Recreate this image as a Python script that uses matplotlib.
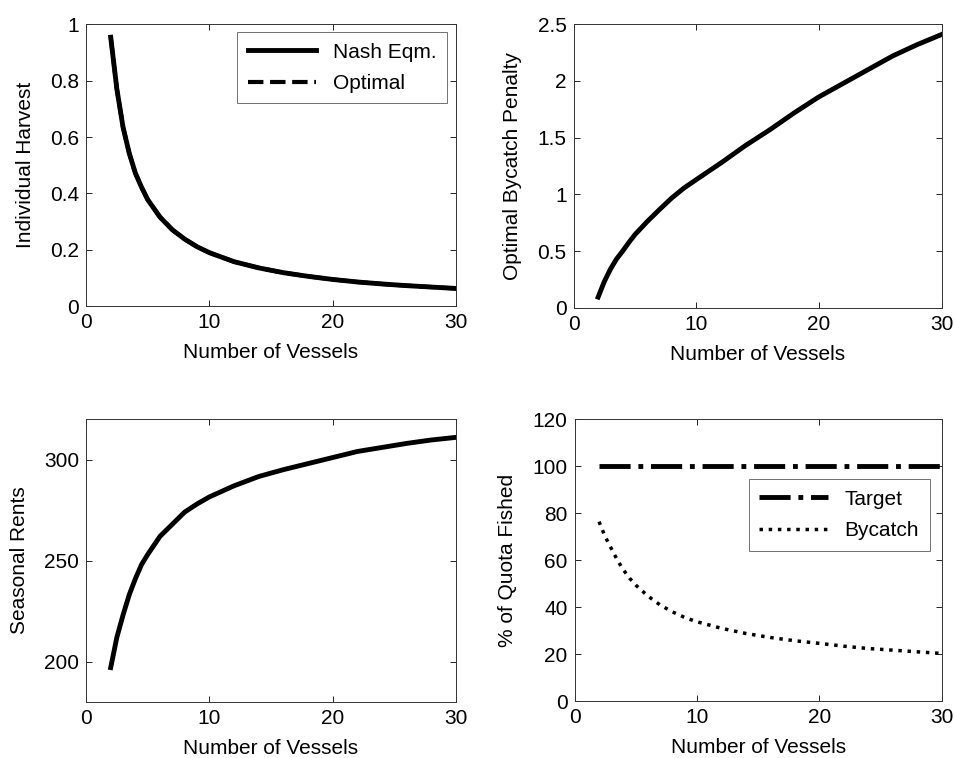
import matplotlib
matplotlib.use("Agg")
import matplotlib.pyplot as plt

plt.rcParams["font.family"] = ["Liberation Sans", "DejaVu Sans"]
plt.rcParams["font.size"] = 15

# number of vessels in the fleet
vessels = [2, 2.5, 3, 3.5, 4, 4.5, 5, 6, 7, 8, 9, 10, 12, 14, 16, 18, 20,
           22, 24, 26, 28, 30]

# individual harvest per vessel
nash_harvest = [0.954, 0.77, 0.635, 0.543, 0.472, 0.422, 0.378, 0.316, 0.271,
                0.238, 0.211, 0.190, 0.158, 0.136, 0.119, 0.106, 0.095,
                0.086, 0.079, 0.073, 0.068, 0.063]
optimal_harvest = [0.954, 0.77, 0.635, 0.543, 0.472, 0.422, 0.378, 0.316, 0.271,
                   0.238, 0.211, 0.190, 0.158, 0.136, 0.119, 0.106, 0.095,
                   0.086, 0.079, 0.073, 0.068, 0.063]

# optimal bycatch penalty
penalty = [0.094, 0.23, 0.34, 0.43, 0.50, 0.575, 0.645, 0.76, 0.866, 0.968,
           1.056, 1.13, 1.276, 1.43, 1.57, 1.72, 1.86, 1.98, 2.10, 2.22,
           2.32, 2.41]

# seasonal rents
rents = [197, 212, 223, 233, 241, 248, 253, 262, 268, 274, 278, 281.5,
         287, 291.6, 295, 298, 301, 304, 306, 308, 309.7, 311]

# share of quota fished (%)
target_pct = [100] * len(vessels)
bycatch_pct = [76.4, 70, 65, 60, 55.8, 52.3, 49.4, 44.7, 40.9, 38, 35.6,
               33.8, 31, 28.8, 27.1, 25.7, 24.6, 23.4, 22.4, 21.7, 21, 20.3]

fig = plt.figure(figsize=(9.56, 7.58), dpi=100)
ax1 = fig.add_axes([0.090, 0.596, 0.387, 0.372])
ax2 = fig.add_axes([0.600, 0.594, 0.385, 0.374])
ax3 = fig.add_axes([0.090, 0.074, 0.387, 0.373])
ax4 = fig.add_axes([0.601, 0.075, 0.384, 0.372])


def style(ax, ylabel):
    ax.set_xlim(0, 30)
    ax.set_xticks([0, 10, 20, 30])
    ax.tick_params(direction="in", top=True, right=True, length=4,
                   width=0.6, labelsize=15, pad=5)
    for s in ax.spines.values():
        s.set_linewidth(0.7)
        s.set_color("#333333")
    ax.set_xlabel("Number of Vessels", fontsize=15, labelpad=8)
    ax.set_ylabel(ylabel, fontsize=15, labelpad=11)


ax1.plot(vessels, optimal_harvest, "k--", lw=3, label="Optimal", zorder=2)
ax1.plot(vessels, nash_harvest, "k-", lw=3.5, label="Nash Eqm.", zorder=3)
ax1.set_ylim(0, 1)
ax1.set_yticks([0, 0.2, 0.4, 0.6, 0.8, 1])
ax1.set_yticklabels(["0", "0.2", "0.4", "0.6", "0.8", "1"])
h, l = ax1.get_legend_handles_labels()
leg1 = ax1.legend(h[::-1], l[::-1], loc="upper right", bbox_to_anchor=(0.976, 0.972),
                  borderaxespad=0, fancybox=False, edgecolor="#333333",
                  fontsize=15, handlelength=3.3, borderpad=0.5, labelspacing=0.6)
leg1.get_frame().set_linewidth(0.6)
style(ax1, "Individual Harvest")

ax2.plot(vessels, penalty, "k-", lw=3.5)
ax2.set_ylim(0, 2.5)
ax2.set_yticks([0, 0.5, 1, 1.5, 2, 2.5])
ax2.set_yticklabels(["0", "0.5", "1", "1.5", "2", "2.5"])
style(ax2, "Optimal Bycatch Penalty")

ax3.plot(vessels, rents, "k-", lw=3.5)
ax3.set_ylim(180, 320)
ax3.set_yticks([200, 250, 300])
style(ax3, "Seasonal Rents")

ax4.plot(vessels, target_pct, "k-.", lw=3.5, label="Target")
ax4.plot(vessels, bycatch_pct, "k:", lw=2.5, label="Bycatch")
ax4.set_ylim(0, 120)
ax4.set_yticks([0, 20, 40, 60, 80, 100, 120])
leg4 = ax4.legend(loc="upper right", bbox_to_anchor=(0.967, 0.787),
                  borderaxespad=0, fancybox=False, edgecolor="#333333",
                  fontsize=15, handlelength=3.3, borderpad=0.5, labelspacing=0.6)
leg4.get_frame().set_linewidth(0.6)
style(ax4, "% of Quota Fished")

fig.savefig("out.png", dpi=100)
